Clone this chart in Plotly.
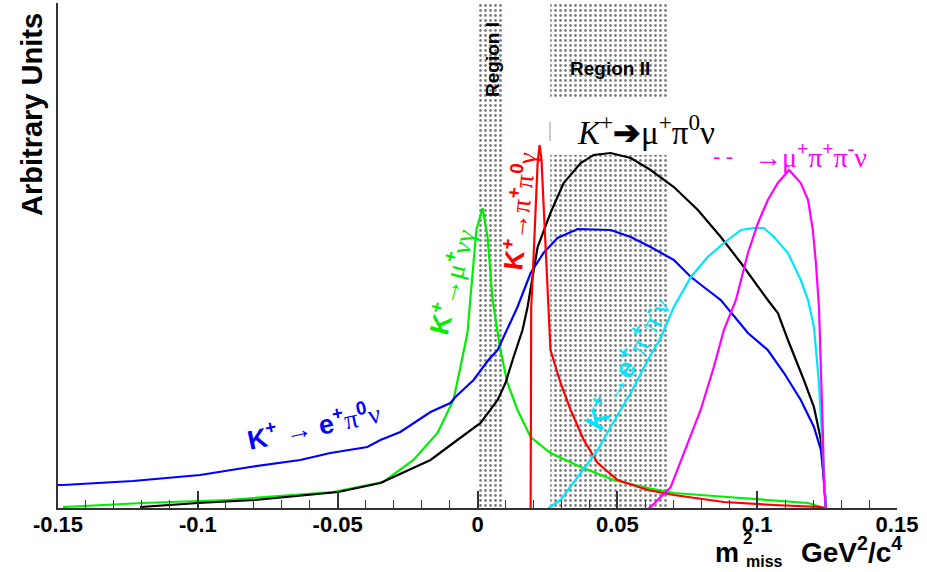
import plotly.graph_objects as go

# ---------------- data ----------------
x_ticks = [-0.15, -0.1, -0.05, 0, 0.05, 0.1, 0.15]
x_tick_labels = ["-0.15", "-0.1", "-0.05", "0", "0.05", "0.1", "0.15"]

region_names = ["Region I", "Region II"]
region_x0 = [0.0, 0.026]
region_x1 = [0.0095, 0.068]

# K+ -> e+ pi0 nu (blue)
blue_x = [-0.150, -0.1482, -0.1232, -0.0992, -0.0813, -0.0634, -0.0526, -0.0394, -0.0347, -0.0276,
          -0.0168, -0.0097, -0.0079, -0.0014, 0.0039, 0.0072, 0.0143, 0.0190, 0.0236, 0.0286,
          0.0358, 0.0476, 0.0548, 0.0619, 0.0702, 0.0763, 0.0823, 0.0870, 0.0967, 0.1038,
          0.1096, 0.1156, 0.1203, 0.1228, 0.1239, 0.1246]
blue_y = [0.23, 0.23, 0.27, 0.33, 0.41, 0.48, 0.55, 0.61, 0.68, 0.76,
          0.96, 1.05, 1.11, 1.28, 1.48, 1.58, 2.01, 2.35, 2.55, 2.70,
          2.79, 2.78, 2.71, 2.61, 2.48, 2.31, 2.18, 2.08, 1.75, 1.58,
          1.35, 1.08, 0.81, 0.58, 0.28, 0.0]

# K+ -> mu+ pi0 nu (black)
black_x = [-0.1207, -0.0999, -0.0795, -0.0498, -0.0347, -0.0168, -0.0072, 0.0011, 0.0072, 0.0100,
           0.0129, 0.0161, 0.0179, 0.0215, 0.0261, 0.0308, 0.0369, 0.0415, 0.0476, 0.0548,
           0.0619, 0.0702, 0.0788, 0.0870, 0.0942, 0.1003, 0.1038, 0.1074, 0.1110, 0.1167,
           0.1203, 0.1228, 0.1239, 0.1246]
black_y = [0.01, 0.05, 0.08, 0.16, 0.25, 0.48, 0.68, 0.85, 1.08, 1.25,
           1.51, 1.78, 2.01, 2.61, 2.95, 3.25, 3.45, 3.53, 3.55, 3.50,
           3.38, 3.21, 2.98, 2.71, 2.45, 2.21, 2.08, 1.95, 1.68, 1.28,
           1.01, 0.68, 0.25, 0.0]

# K+ -> mu+ nu gamma (green)
green_x = [-0.1482, -0.1196, -0.0895, -0.0516, -0.0337, -0.0229, -0.0143, -0.0086, -0.0061, -0.0036,
           -0.0025, -0.0004, 0.0018, 0.0036, 0.0054, 0.0082, 0.0107, 0.0143, 0.0190, 0.0261,
           0.0369, 0.0487, 0.0609, 0.0702, 0.0942, 0.1182, 0.1228]
green_y = [0.01, 0.05, 0.08, 0.16, 0.26, 0.48, 0.75, 1.08, 1.41, 1.75,
           2.11, 2.78, 3.00, 2.71, 2.08, 1.58, 1.25, 0.98, 0.71, 0.55,
           0.41, 0.28, 0.20, 0.15, 0.10, 0.05, 0.01]

# K+ -> pi+ pi0 gamma (red)
red_x = [0.0190, 0.0192, 0.0200, 0.0208, 0.0215, 0.0222, 0.0229, 0.0236, 0.0243, 0.0251,
         0.0261, 0.0297, 0.0333, 0.0380, 0.0430, 0.0501, 0.0609, 0.0702, 0.0881, 0.1060,
         0.1228, 0.1246]
red_y = [0.0, 2.00, 2.48, 3.05, 3.45, 3.63, 3.48, 3.05, 2.61, 2.15,
         1.58, 1.25, 0.98, 0.68, 0.45, 0.28, 0.18, 0.13, 0.06, 0.03,
         0.01, 0.0]

# K+ -> e+ pi+ pi- nu (cyan)
cyan_x = [0.0254, 0.0297, 0.0369, 0.0430, 0.0476, 0.0548, 0.0609, 0.0655, 0.0702, 0.0763,
          0.0823, 0.0881, 0.0942, 0.0988, 0.1024, 0.1060, 0.1110, 0.1156, 0.1182, 0.1203,
          0.1221, 0.1235, 0.1239, 0.1246]
cyan_y = [0.0, 0.08, 0.35, 0.58, 0.81, 1.15, 1.48, 1.70, 2.01, 2.31,
          2.51, 2.65, 2.78, 2.80, 2.80, 2.71, 2.55, 2.28, 2.08, 1.81,
          1.25, 0.58, 0.28, 0.0]

# K+ -> mu+ pi+ pi- nu (magenta)
magenta_x = [0.0612, 0.0619, 0.0691, 0.0738, 0.0798, 0.0845, 0.0881, 0.0924, 0.0967, 0.1003,
             0.1038, 0.1074, 0.1114, 0.1156, 0.1182, 0.1199, 0.1210, 0.1221, 0.1228, 0.1235,
             0.1239, 0.1246]
magenta_y = [0.0, 0.01, 0.21, 0.55, 0.98, 1.41, 1.78, 2.08, 2.55, 2.85,
             3.08, 3.25, 3.38, 3.25, 3.08, 2.78, 2.45, 2.01, 1.41, 0.75,
             0.21, 0.0]

Y_MAX = 5.05
LABEL_GAP = (3.53, 4.11)  # white band behind the K+ -> mu+ pi0 nu label (Region II only)

# ---------------- layout geometry ----------------
W, H = 927, 572
L, R, T, B = 58, 30, 3, 64
PW, PH = W - L - R, H - T - B


def px(x):
    return (x - L) / PW


def py(y):
    return (H - B - y) / PH


SANS = "Liberation Sans, Arial, sans-serif"
SERIF = "Liberation Serif, Times New Roman, serif"

fig = go.Figure()

pattern = dict(shape=".", fgcolor="black", bgcolor="white", size=5, solidity=0.25)


def add_region(x0, x1, y0, y1):
    fig.add_trace(go.Scatter(
        x=[x0, x1, x1, x0, x0], y=[y0, y0, y1, y1, y0], mode="lines",
        fill="toself", fillpattern=pattern, fillcolor="white",
        line=dict(width=0, color="rgba(0,0,0,0)"), hoverinfo="skip", showlegend=False))


add_region(region_x0[0], region_x1[0], 0, Y_MAX - 0.01)
add_region(region_x0[1], region_x1[1], 0, LABEL_GAP[0])
add_region(region_x0[1], region_x1[1], LABEL_GAP[1], Y_MAX - 0.01)

series = [
    (green_x, green_y, "#00ee00"),
    (black_x, black_y, "black"),
    (blue_x, blue_y, "#0000ff"),
    (red_x, red_y, "#ff0000"),
    (cyan_x, cyan_y, "#00e5ff"),
    (magenta_x, magenta_y, "#ff00ff"),
]
for xs, ys, c in series:
    fig.add_trace(go.Scatter(x=xs, y=ys, mode="lines", line=dict(color=c, width=2.2),
                             hoverinfo="skip", showlegend=False))

ann = []


def add_text(text, x, y, size, color="black", family=SANS, angle=0, xanchor="center", yanchor="middle"):
    ann.append(dict(text=text, x=px(x), y=py(y), xref="paper", yref="paper", showarrow=False,
                    font=dict(size=size, color=color, family=family), textangle=angle,
                    xanchor=xanchor, yanchor=yanchor))


SER = '<span style="font-family:Liberation Serif">%s</span>'

add_text("<b>Arbitrary Units</b>", 32, 115, 29, angle=-90)
add_text("<b>Region I</b>", 493, 60, 19, angle=-90)
add_text("<b>Region II</b>", 610, 68, 19)

add_text("<i>K</i><sup>+</sup><b>➔</b>μ<sup>+</sup>π<sup>0</sup>ν", 646, 130, 33, family=SERIF)
add_text("- -", 723, 155, 22, color="#ff00ff", family=SERIF)
add_text("→μ<sup><b>+</b></sup>π<sup><b>+</b></sup>π<sup><b>-</b></sup>ν", 810, 155, 28,
         color="#ff00ff", family=SERIF)

add_text("<b>K<sup>+</sup></b>→" + SER % "μ" + "<b><sup>+</sup></b>" + SER % "νγ",
         450, 282, 27, color="#00ee00", angle=-75)
add_text("<b>K<sup>+</sup></b>→" + SER % "π" + "<b><sup>+</sup></b>" + SER % "π" + "<b><sup>0</sup></b>" + SER % "γ",
         518, 211, 27, color="#ff0000", angle=-83)
add_text("<b>K<sup>+</sup></b> → <b>e<sup>+</sup></b>" + SER % "π" + "<b><sup>0</sup></b>" + SER % "ν",
         313, 425, 27, color="#0000ff", angle=-12)
add_text("<b>K<sup>+</sup></b>→<b>e<sup>+</sup></b>" + SER % "π" + "<b><sup>+</sup></b>" + SER % "π" + "<b><sup>-</sup></b>" + SER % "ν",
         626, 363, 28, color="#00e5ff", angle=-61)

# x-axis title (ROOT style stacked super/subscript)
add_text("<b>m</b>", 727, 553, 27)
add_text("<b>2</b>", 747, 538, 17)
add_text("<b>miss</b>", 764, 561, 16)
add_text("<b>GeV<sup>2</sup>/c<sup>4</sup></b>", 851, 550, 28)

fig.update_layout(
    width=W, height=H, margin=dict(l=L, r=R, t=T, b=B, pad=0),
    paper_bgcolor="white", plot_bgcolor="white", annotations=ann,
    shapes=[dict(type="line", xref="paper", yref="paper", x0=px(550), x1=px(550),
                 y0=py(122), y1=py(141), line=dict(color="#999999", width=1))],
)
fig.update_xaxes(range=[-0.15, 0.15], showgrid=False, zeroline=False, showline=True,
                 linecolor="#333333", linewidth=2, mirror=False,
                 tickmode="array", tickvals=x_ticks,
                 ticktext=["<b>%s</b>" % t for t in x_tick_labels],
                 ticks="inside", ticklen=17, tickwidth=1.5, tickcolor="#333333",
                 ticklabelstandoff=-4,
                 tickfont=dict(family=SANS, size=22, color="black"),
                 minor=dict(ticks="inside", ticklen=8, dtick=0.01, tick0=0,
                            tickcolor="#333333", tickwidth=1.3, showgrid=False))
fig.update_yaxes(range=[0, Y_MAX], showgrid=False, zeroline=False, showline=True,
                 linecolor="#333333", linewidth=2, ticks="", showticklabels=False)

fig.write_html("out.html", config={"displayModeBar": False},
               post_script="document.body.style.margin='0';document.body.style.padding='0';")
